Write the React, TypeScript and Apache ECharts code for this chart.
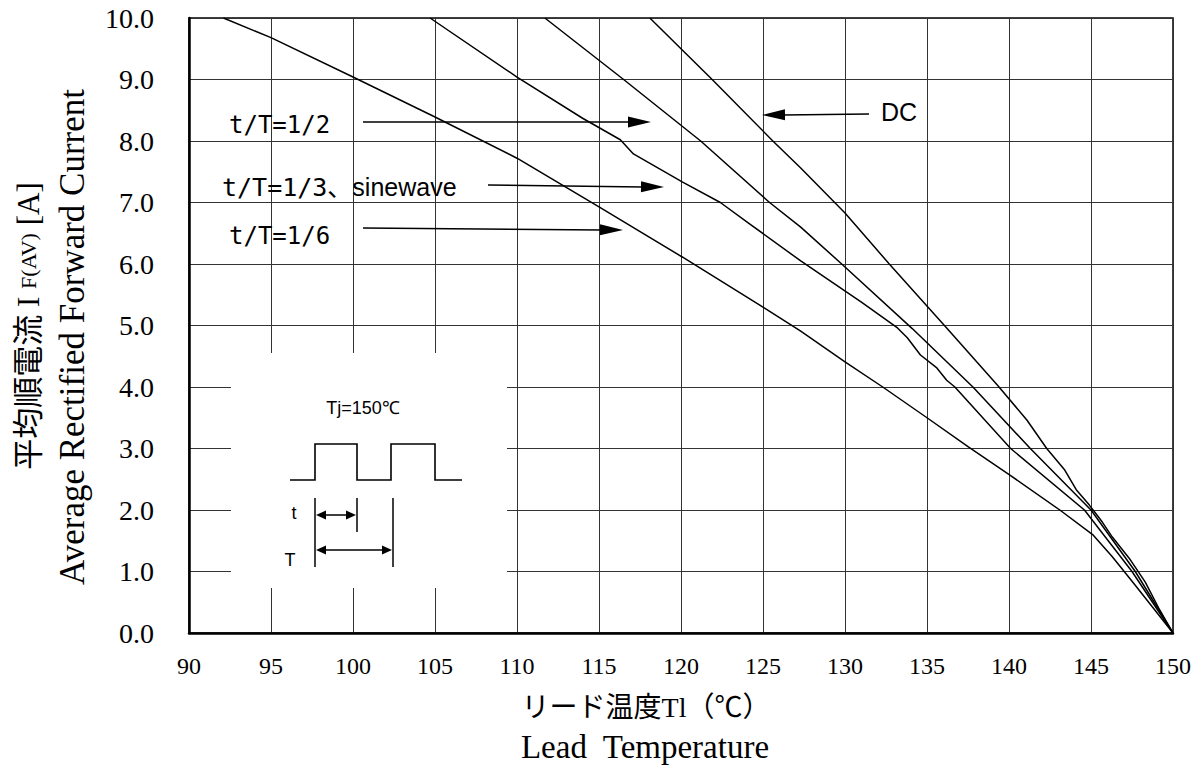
import { useEffect, useRef } from "react";
import * as echarts from "echarts";

// ---- data ----
const xTicks = [90, 95, 100, 105, 110, 115, 120, 125, 130, 135, 140, 145, 150];
const yTicks = ["0.0", "1.0", "2.0", "3.0", "4.0", "5.0", "6.0", "7.0", "8.0", "9.0", "10.0"];

const seriesNames = ["t/T=1/6", "t/T=1/3、sinewave", "t/T=1/2", "DC"];

const curveSixth: [number, number][] = [
  [92.1, 10], [95, 9.68], [100, 9.04], [105, 8.39], [110, 7.72],
  [115, 6.93], [120.1, 6.11], [125, 5.3], [127.3, 4.91], [130, 4.41], [132.3, 4.0],
  [135, 3.5], [137.5, 3.03], [140.1, 2.56], [143.1, 2.0], [145.1, 1.6], [146.3, 1.24],
  [147.6, 0.81], [150, 0],
];
const curveThird: [number, number][] = [
  [104.7, 10], [110, 9.04], [114, 8.37], [116.3, 8.02], [117.1, 7.79], [120.1, 7.33],
  [122.4, 7.0], [124.2, 6.65], [127.3, 6.05], [131, 5.38], [133.2, 4.96], [133.8, 4.8],
  [134.6, 4.52], [135.6, 4.31], [136.2, 4.11], [136.7, 4.0], [140.1, 3.0], [144.6, 2.0],
  [147.5, 1.0], [150, 0],
];
const curveHalf: [number, number][] = [
  [111.7, 10], [116.5, 9.0], [121.2, 8.0], [125.4, 7.0], [127.3, 6.6], [129.8, 6.0],
  [134.1, 4.95], [137.8, 4.0], [141.3, 3.0], [145.0, 2.0], [147.7, 1.0], [150, 0],
];
const curveDC: [number, number][] = [
  [118.1, 10], [121.9, 9.0], [125.6, 8.0], [127.3, 7.56], [130, 6.83], [132.7, 6.0],
  [136.2, 4.96], [139.3, 4.03], [141.1, 3.46], [142.3, 3.0], [143.4, 2.65], [144.1, 2.33],
  [144.9, 2.08], [145.7, 1.8], [146.3, 1.56], [147.4, 1.19], [148.3, 0.83], [149.2, 0.37],
  [150, 0],
];

const SERIF = "'Liberation Serif', 'Noto Sans CJK JP', serif";
const SANS = "'Liberation Sans', Arial, sans-serif";
const MONO = "'DejaVu Sans Mono', 'Noto Sans CJK JP', monospace";

function head(x: number, y: number, fx: number, fy: number, len: number, hw: number, z = 60) {
  const dx = x - fx;
  const dy = y - fy;
  const d = Math.hypot(dx, dy) || 1;
  const ux = dx / d;
  const uy = dy / d;
  const bx = x - ux * len;
  const by = y - uy * len;
  return {
    type: "polygon",
    z,
    shape: {
      points: [
        [x, y],
        [bx - uy * hw, by + ux * hw],
        [bx + uy * hw, by - ux * hw],
      ],
    },
    style: { fill: "#000" },
  };
}

function arrow(x1: number, y1: number, x2: number, y2: number, len = 23, hw = 5.5, width = 1.6) {
  return [
    { type: "line", z: 60, shape: { x1, y1, x2: x2 - ((x2 - x1) / Math.hypot(x2 - x1, y2 - y1)) * (len - 2), y2 }, style: { stroke: "#000", lineWidth: width } },
    head(x2, y2, x1, y1, len, hw),
  ];
}

function dblArrow(x1: number, x2: number, y: number) {
  return [
    { type: "line", z: 60, shape: { x1: x1 + 4, y1: y, x2: x2 - 4, y2: y }, style: { stroke: "#000", lineWidth: 1.5 } },
    head(x1, y, x2, y, 10, 4.5),
    head(x2, y, x1, y, 10, 4.5),
  ];
}

function txt(text: string, x: number, y: number, fontSize: number, fontFamily: string, align = "left", extra: any = {}) {
  return {
    type: "text",
    z: 60,
    x,
    y,
    ...extra,
    style: {
      text,
      fontSize,
      fontFamily,
      fill: "#000",
      align,
      verticalAlign: "middle",
      textAlign: align,
      textVerticalAlign: "middle",
    },
  };
}

export default function App() {
  const ref = useRef<HTMLDivElement>(null);

  useEffect(() => {
    if (!ref.current) return;
    const chart = echarts.init(ref.current, null, { renderer: "svg" });

    const lineStyle = { color: "#000", width: 1.5 };
    const mk = (name: string, data: [number, number][]) => ({
      name,
      type: "line",
      data,
      showSymbol: false,
      symbol: "none",
      lineStyle,
      itemStyle: { color: "#000" },
      z: 3,
    });

    const graphic: any[] = [
      // inset white box
      { type: "rect", z: 50, shape: { x: 231, y: 353, width: 276, height: 235 }, style: { fill: "#fff", stroke: null } },
      txt("Tj=150℃", 363, 408, 18, SANS, "center"),
      {
        type: "polyline",
        z: 60,
        shape: {
          points: [
            [290, 480], [315, 480], [315, 444], [357, 444], [357, 480],
            [391, 480], [391, 444], [435, 444], [435, 480], [462, 480],
          ],
        },
        style: { stroke: "#000", lineWidth: 1.6, fill: null },
      },
      { type: "line", z: 60, shape: { x1: 315, y1: 498, x2: 315, y2: 567 }, style: { stroke: "#000", lineWidth: 1.5 } },
      { type: "line", z: 60, shape: { x1: 357, y1: 498, x2: 357, y2: 532 }, style: { stroke: "#000", lineWidth: 1.5 } },
      { type: "line", z: 60, shape: { x1: 393, y1: 498, x2: 393, y2: 567 }, style: { stroke: "#000", lineWidth: 1.5 } },
      ...dblArrow(316, 356, 515),
      ...dblArrow(316, 392, 550),
      txt("t", 294, 513, 18, SANS, "center"),
      txt("T", 290, 560, 18, SANS, "center"),

      // annotations
      txt("t/T=1/2", 229, 125, 24, MONO),
      ...arrow(363, 122, 651, 122),
      {
        type: "text",
        z: 60,
        x: 222,
        y: 187,
        style: {
          text: "{m|t/T=1/3、}{p|sinewave}",
          align: "left",
          verticalAlign: "middle",
          textAlign: "left",
          textVerticalAlign: "middle",
          fill: "#000",
          rich: {
            m: { fontSize: 25, fontFamily: MONO, fill: "#000" },
            p: { fontSize: 25, fontFamily: SANS, fill: "#000" },
          },
        },
      },
      ...arrow(488, 185, 664, 187),
      txt("t/T=1/6", 229, 236, 24, MONO),
      ...arrow(363, 228, 623, 230),
      txt("DC", 881, 112, 25, SANS),
      ...arrow(869, 114, 762, 115),

      // axis titles
      txt("リード温度Tl（℃）", 646, 707, 28, SERIF, "center"),
      txt("Lead  Temperature", 645, 747, 33, SERIF, "center"),
      {
        type: "text",
        z: 60,
        x: 28,
        y: 326,
        rotation: Math.PI / 2,
        style: {
          text: "{c|平均順電流 I }{s|F(AV)}{c| [A]}",
          align: "center",
          verticalAlign: "middle",
          textAlign: "center",
          textVerticalAlign: "middle",
          fill: "#000",
          rich: {
            c: { fontSize: 31, fontFamily: SERIF, fill: "#000" },
            s: { fontSize: 22, fontFamily: SERIF, fill: "#000" },
          },
        },
      },
      txt("Average Rectified Forward Current", 72, 337, 35, SERIF, "center", { rotation: Math.PI / 2 }),
    ];

    chart.setOption({
      animation: false,
      backgroundColor: "#fff",
      grid: {
        left: 189,
        top: 18,
        width: 984,
        height: 615,
        show: true,
        borderColor: "#000",
        borderWidth: 1.5,
        backgroundColor: "transparent",
      },
      xAxis: {
        type: "value",
        min: 90,
        max: 150,
        interval: 5,
        axisLine: { show: true, onZero: false, lineStyle: { color: "#000", width: 2.5 } },
        axisTick: { show: false },
        splitLine: { show: true, lineStyle: { color: "#333", width: 1 } },
        axisLabel: {
          color: "#000",
          fontSize: 24,
          fontFamily: SERIF,
          margin: 21,
          formatter: (v: number) => String(xTicks.find((t) => t === v) ?? v),
        },
      },
      yAxis: {
        type: "value",
        min: 0,
        max: 10,
        interval: 1,
        axisLine: { show: true, onZero: false, lineStyle: { color: "#000", width: 2.5 } },
        axisTick: { show: false },
        splitLine: { show: true, lineStyle: { color: "#333", width: 1 } },
        axisLabel: {
          color: "#000",
          fontSize: 28,
          fontFamily: SERIF,
          margin: 35,
          padding: [8, 0, 0, 0],
          formatter: (v: number) => yTicks[Math.round(v)] ?? String(v),
        },
      },
      series: [
        mk(seriesNames[0], curveSixth),
        mk(seriesNames[1], curveThird),
        mk(seriesNames[2], curveHalf),
        mk(seriesNames[3], curveDC),
      ],
      graphic,
    });

    return () => chart.dispose();
  }, []);

  return (
    <div
      ref={ref}
      style={{ position: "absolute", left: 0, top: 0, width: 1203, height: 767, background: "#fff" }}
    />
  );
}
